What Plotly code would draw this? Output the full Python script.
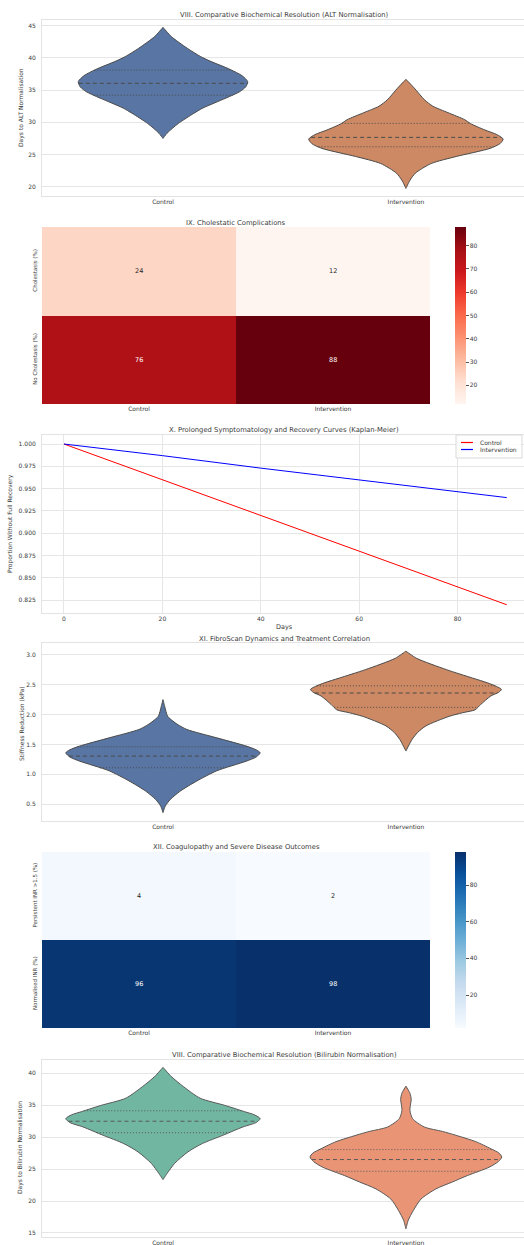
import numpy as np
import plotly.graph_objects as go

W, H = 524, 1245
FONT = "DejaVu Sans"
TXT = "#3a3a3a"
GRID = "#e6e6e6"

GROUPS = ["Control", "Intervention"]

# ---- VIII. ALT normalisation (days): KDE outline profile + quartiles ----
ALT_CTRL_DAYS = [27.5, 28.3, 29.8, 31.4, 32.2, 33.2, 34.0, 34.75, 35.5, 36.3, 37.2, 38.2, 39.5, 40.2, 41.5, 43.3, 44.74]
ALT_CTRL_DENS = [0, 12, 45, 92, 118, 162, 198, 228, 246, 252, 236, 200, 140, 112, 72, 25, 0]
ALT_INT_DAYS = [19.74, 21.0, 22.1, 23.6, 24.7, 25.95, 26.7, 27.4, 28.1, 28.8, 29.8, 30.4, 31.5, 32.5, 33.5, 35.3, 36.67]
ALT_INT_DENS = [0, 12, 28, 75, 150, 250, 280, 289, 270, 235, 192, 175, 125, 80, 55, 25, 0]
ALT_QUARTILES = {"Control": [34.2, 36.05, 38.1], "Intervention": [26.2, 27.66, 29.83]}

# ---- IX. Cholestatic complications (%) ----
CHOL_ROWS = ["Cholestasis (%)", "No Cholestasis (%)"]
CHOL_VALUES = [[24, 12], [76, 88]]

# ---- X. Recovery curves ----
KM_DAYS = [0, 20, 40, 60, 80, 90]
KM_CONTROL = [1.000, 0.960, 0.920, 0.880, 0.840, 0.820]
KM_INTERVENTION = [1.000, 0.987, 0.973, 0.960, 0.947, 0.940]
KM_SERIES = [("Control", KM_CONTROL, "red"), ("Intervention", KM_INTERVENTION, "blue")]

# ---- XI. FibroScan stiffness reduction (kPa) ----
FIB_CTRL_KPA = [0.36, 0.47, 0.58, 0.72, 0.89, 1.06, 1.22, 1.29, 1.36, 1.41, 1.47, 1.61, 1.75, 1.83, 1.89, 1.97, 2.14, 2.25]
FIB_CTRL_DENS = [0, 7, 22, 52, 102, 162, 250, 280, 292, 280, 252, 162, 72, 45, 30, 14, 5, 0]
FIB_INT_KPA = [1.39, 1.58, 1.70, 1.81, 1.97, 2.03, 2.08, 2.17, 2.31, 2.37, 2.42, 2.47, 2.53, 2.61, 2.75, 2.94, 3.06]
FIB_INT_DENS = [0, 18, 35, 60, 130, 170, 208, 225, 255, 278, 287, 272, 245, 200, 122, 32, 0]
FIB_QUARTILES = {"Control": [1.11, 1.305, 1.46], "Intervention": [2.12, 2.36, 2.48]}

# ---- XII. Coagulopathy (%) ----
INR_ROWS = ["Persistent INR >1.5 (%)", "Normalised INR (%)"]
INR_VALUES = [[4, 2], [96, 98]]

# ---- VIII. Bilirubin normalisation (days) ----
BIL_CTRL_DAYS = [23.35, 24.3, 25.9, 27.7, 29.0, 30.3, 31.6, 32.3, 32.9, 33.5, 34.0, 35.0, 36.1, 37.9, 39.5, 40.94]
BIL_CTRL_DENS = [0, 12, 35, 75, 118, 180, 240, 280, 292, 275, 245, 185, 112, 62, 25, 0]
BIL_INT_DAYS = [15.65, 17.0, 18.5, 20.3, 21.9, 23.0, 24.0, 25.3, 26.2, 26.9, 27.5, 28.2, 29.3, 30.3, 30.9, 31.6, 32.9, 34.2, 35.2, 35.9, 36.9, 38.0]
BIL_INT_DENS = [0, 7, 22, 45, 90, 140, 185, 250, 278, 288, 280, 255, 210, 150, 110, 55, 20, 12, 14, 16, 12, 0]
BIL_QUARTILES = {"Control": [30.7, 32.5, 34.14], "Intervention": [24.66, 26.5, 28.06]}

DEEP = ["#5875a3", "#cc8963"]
SET2 = ["#71b6a1", "#e99575"]


def xd(l, r):
    return [l / W, r / W]


def yd(t, b):
    return [1 - b / H, 1 - t / H]


def px(x):
    return x / W


def py(y):
    return 1 - y / H


fig = go.Figure()
annotations = []
shapes = []


def title(text, xpx, ypx):
    annotations.append(dict(text=text, x=px(xpx), y=py(ypx), xref="paper", yref="paper",
                            showarrow=False, xanchor="center", yanchor="middle",
                            font=dict(family=FONT, size=6.8, color=TXT)))


def ylabel(text, xpx, ypx, size=6):
    annotations.append(dict(text=text, x=px(xpx), y=py(ypx), xref="paper", yref="paper",
                            showarrow=False, xanchor="center", yanchor="middle", textangle=-90,
                            font=dict(family=FONT, size=size, color=TXT)))


def add_violins(ax, profiles, colors, edge, quartiles):
    peak = max(max(d) for _, d in profiles)
    for i, ((lev, dens), col, grp) in enumerate(zip(profiles, colors, GROUPS)):
        lev = np.asarray(lev, float)
        hw = np.asarray(dens, float) / peak * 0.4
        xs = np.concatenate([i + hw, (i - hw)[::-1], [i + hw[0]]])
        ys = np.concatenate([lev, lev[::-1], [lev[0]]])
        fig.add_trace(go.Scatter(x=xs, y=ys, mode="lines", fill="toself", fillcolor=col,
                                 line=dict(color=edge, width=1, shape="spline", smoothing=0.7),
                                 xaxis="x" + ax, yaxis="y" + ax, showlegend=False, hoverinfo="skip"))
        q1, med, q3 = quartiles[grp]
        for q, dash in ((q1, "1px,2px"), (med, "4px,3px"), (q3, "1px,2px")):
            w = float(np.interp(q, lev, hw))
            fig.add_trace(go.Scatter(x=[i - w, i + w], y=[q, q], mode="lines",
                                     line=dict(color=edge, width=1, dash=dash),
                                     xaxis="x" + ax, yaxis="y" + ax, showlegend=False, hoverinfo="skip"))


def add_heatmap(ax, rows, values, scale, cb_top, cb_bottom, tickvals):
    z = np.array(values)
    zmin, zmax = float(z.min()), float(z.max())
    fig.add_trace(go.Heatmap(z=values, x=GROUPS, y=rows, colorscale=scale, zmin=zmin, zmax=zmax,
                             xaxis="x" + ax, yaxis="y" + ax, hoverinfo="skip", showlegend=False,
                             colorbar=dict(x=px(455), xanchor="left", xpad=0, ypad=0, thickness=11,
                                           lenmode="pixels", len=cb_bottom - cb_top,
                                           y=py((cb_top + cb_bottom) / 2), yanchor="middle",
                                           outlinewidth=0, ticks="outside", ticklen=3,
                                           tickcolor="#555", tickvals=tickvals,
                                           tickfont=dict(family=FONT, size=6, color=TXT))))
    mid = (zmin + zmax) / 2
    for r, row in enumerate(rows):
        for c, grp in enumerate(GROUPS):
            v = values[r][c]
            annotations.append(dict(text=str(v), x=grp, y=row, xref="x" + ax, yref="y" + ax,
                                    showarrow=False,
                                    font=dict(family=FONT, size=6.5,
                                              color="#ffffff" if v > mid else "#262626")))


# Panel 1: ALT violins
add_violins("", [(ALT_CTRL_DAYS, ALT_CTRL_DENS), (ALT_INT_DAYS, ALT_INT_DENS)], DEEP, "#4b4b4b", ALT_QUARTILES)
# Panel 2: cholestasis heatmap
add_heatmap("2", CHOL_ROWS, CHOL_VALUES, "Reds", 227, 404, [20, 30, 40, 50, 60, 70, 80])
# Panel 3: recovery curves, with a compact legend box in the upper right
shapes.append(dict(type="rect", xref="paper", yref="paper", x0=px(456), x1=px(522), y0=py(458), y1=py(435),
                   line=dict(color="#d9d9d9", width=1), fillcolor="rgba(255,255,255,0.85)", layer="above"))
for k, (name, vals, col) in enumerate(KM_SERIES):
    fig.add_trace(go.Scatter(x=KM_DAYS, y=vals, mode="lines", name=name, showlegend=False,
                             line=dict(color=col, width=1), xaxis="x3", yaxis="y3"))
    ly = 442.5 + k * 7
    shapes.append(dict(type="line", xref="paper", yref="paper", x0=px(461), x1=px(473), y0=py(ly), y1=py(ly),
                       line=dict(color=col, width=1.2), layer="above"))
    annotations.append(dict(text=name, x=px(478), y=py(ly), xref="paper", yref="paper", showarrow=False,
                            xanchor="left", yanchor="middle", font=dict(family=FONT, size=6, color=TXT)))
# Panel 4: FibroScan violins
add_violins("4", [(FIB_CTRL_KPA, FIB_CTRL_DENS), (FIB_INT_KPA, FIB_INT_DENS)], DEEP, "#4b4b4b", FIB_QUARTILES)
# Panel 5: coagulopathy heatmap
add_heatmap("5", INR_ROWS, INR_VALUES, "Blues", 852, 1028, [20, 40, 60, 80])
# Panel 6: bilirubin violins
add_violins("6", [(BIL_CTRL_DAYS, BIL_CTRL_DENS), (BIL_INT_DAYS, BIL_INT_DENS)], SET2, "#595959", BIL_QUARTILES)

tickfont = dict(family=FONT, size=6, color=TXT)
frame = dict(showline=True, linecolor="#e3e3e3", linewidth=1, mirror=True, zeroline=False)


def violin_axes(top, bottom, yrange, dtick):
    xa = dict(domain=xd(42, 524), range=[-0.498, 1.486], tickvals=[0, 1], ticktext=GROUPS,
              showgrid=False, tickfont=tickfont, ticks="", **frame)
    ya = dict(domain=yd(top, bottom), range=yrange, dtick=dtick, showgrid=True, gridcolor=GRID,
              gridwidth=1, tickfont=tickfont, ticks="", ticklabelstandoff=4, **frame)
    return xa, ya


def heat_axes(top, bottom):
    xa = dict(domain=xd(42, 430), showgrid=False, zeroline=False, tickfont=tickfont, ticks="")
    ya = dict(domain=yd(top, bottom), autorange="reversed", showgrid=False, zeroline=False,
              tickangle=-90, tickfont=dict(family=FONT, size=5.5, color=TXT), ticks="",
              ticklabelstandoff=3)
    return xa, ya


x1, y1 = violin_axes(20, 196, [18.56, 45.88], 5)
x2, y2 = heat_axes(227, 404)
x3 = dict(domain=xd(42, 524), range=[-4.47, 93.5], dtick=20, showgrid=True, gridcolor=GRID,
          tickfont=tickfont, ticks="", **frame)
y3 = dict(domain=yd(435, 612.7), range=[0.8111, 1.0101], dtick=0.025, tickformat=".3f", showgrid=True,
          gridcolor=GRID, tickfont=tickfont, ticks="", ticklabelstandoff=4, **frame)
x4, y4 = violin_axes(643, 821, [0.22, 3.196], 0.5)
y4["tickformat"] = ".1f"
x5, y5 = heat_axes(852, 1028)
x6, y6 = violin_axes(1060, 1237, [14.37, 42.09], 5)

for a, ax in ((x2, "y2"), (x3, "y3"), (x4, "y4"), (x5, "y5"), (x6, "y6")):
    a["anchor"] = ax
for a, ax in ((y2, "x2"), (y3, "x3"), (y4, "x4"), (y5, "x5"), (y6, "x6")):
    a["anchor"] = ax

title("VIII. Comparative Biochemical Resolution (ALT Normalisation)", 284, 15)
title("IX. Cholestatic Complications", 236, 223)
title("X. Prolonged Symptomatology and Recovery Curves (Kaplan-Meier)", 284, 430)
title("XI. FibroScan Dynamics and Treatment Correlation", 284, 639)
title("XII. Coagulopathy and Severe Disease Outcomes", 236, 847)
title("VIII. Comparative Biochemical Resolution (Bilirubin Normalisation)", 284, 1055)

ylabel("Days to ALT Normalisation", 21, 108)
ylabel("Proportion Without Full Recovery", 10, 524)
ylabel("Stiffness Reduction (kPa)", 21, 724)
ylabel("Days to Bilirubin Normalisation", 20, 1148)
annotations.append(dict(text="Days", x=px(284), y=py(627), xref="paper", yref="paper",
                        showarrow=False, xanchor="center", yanchor="middle",
                        font=dict(family=FONT, size=6.5, color=TXT)))

fig.update_layout(
    width=W, height=H, margin=dict(l=0, r=0, t=0, b=0),
    paper_bgcolor="white", plot_bgcolor="white",
    font=dict(family=FONT, size=6, color=TXT),
    xaxis=x1, yaxis=y1, xaxis2=x2, yaxis2=y2, xaxis3=x3, yaxis3=y3,
    xaxis4=x4, yaxis4=y4, xaxis5=x5, yaxis5=y5, xaxis6=x6, yaxis6=y6,
    annotations=annotations,
    shapes=shapes,
    showlegend=False,
)

fig.write_html("out.html")
